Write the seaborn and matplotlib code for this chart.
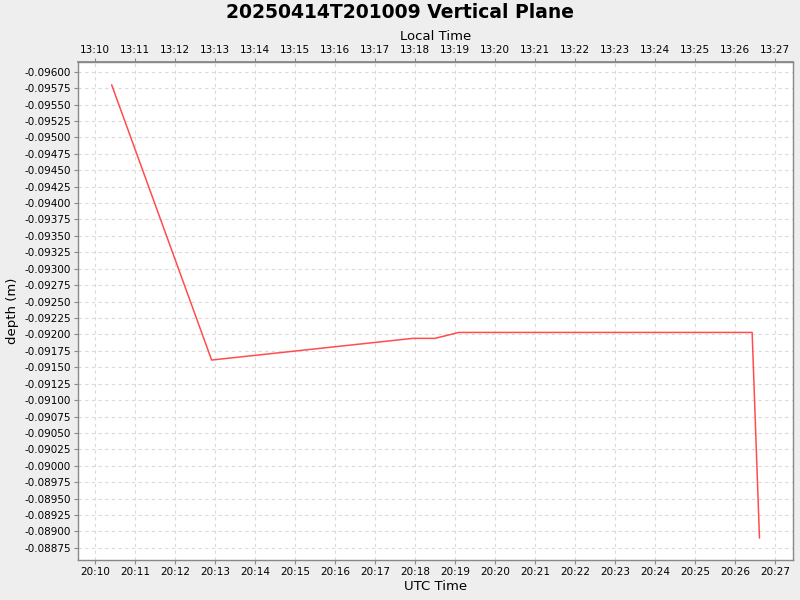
import matplotlib
matplotlib.use("Agg")
import matplotlib.pyplot as plt
import matplotlib.dates as mdates
import numpy as np
import pandas as pd
import seaborn as sns

# ---- data ----
utc_times = ["2025-04-14 20:10:25", "2025-04-14 20:12:55", "2025-04-14 20:17:57",
             "2025-04-14 20:18:30", "2025-04-14 20:19:06", "2025-04-14 20:26:26",
             "2025-04-14 20:26:37"]
depth_m = [-0.09580, -0.09161, -0.09194, -0.09194, -0.09203, -0.09203, -0.08890]
title = "20250414T201009 Vertical Plane"
local_offset_hours = -7

df = pd.DataFrame({"time": pd.to_datetime(utc_times), "depth": depth_m})

sns.set_theme(style="white")
plt.rcParams["font.family"] = ["DejaVu Sans"]
plt.rcParams["text.color"] = "black"
plt.rcParams["axes.labelcolor"] = "black"
plt.rcParams["xtick.color"] = "black"
plt.rcParams["ytick.color"] = "black"

fig = plt.figure(figsize=(8, 6), dpi=100, facecolor="#EEEEEE")
ax = fig.add_axes([0.0975, 0.0667, 0.8935, 0.8295])
ax.set_facecolor("white")

sns.lineplot(data=df, x="time", y="depth", ax=ax, color="#FF4D4D", linewidth=1.1,
             sort=False, estimator=None)

x0 = pd.Timestamp("2025-04-14 20:09:34.5")
x1 = pd.Timestamp("2025-04-14 20:27:27")
ax.set_xlim(x0, x1)
ax.set_ylim(-0.088566, -0.096143)

ax.yaxis.set_major_locator(matplotlib.ticker.MultipleLocator(0.00025))
ax.yaxis.set_major_formatter(matplotlib.ticker.FormatStrFormatter("%.5f"))
ax.xaxis.set_major_locator(mdates.MinuteLocator(interval=1))
ax.xaxis.set_major_formatter(mdates.DateFormatter("%H:%M"))

ax.grid(True, color="#DADADA", linestyle=(0, (3, 3)), linewidth=0.8)
for s in ax.spines.values():
    s.set_color("#888888")
    s.set_linewidth(1.0)

ax.tick_params(axis="both", which="major", labelsize=7.5, length=3, width=0.8,
               color="#888888", labelcolor="black", direction="out",
               left=True, bottom=True, pad=2)
ax.set_xlabel("UTC Time", fontsize=9.5, labelpad=2, color="black")
ax.set_ylabel("depth (m)", fontsize=9.5, labelpad=4, color="black")

off = local_offset_hours / 24.0
sec = ax.secondary_xaxis("top", functions=(lambda x: x + off, lambda x: x - off))
sec.xaxis.set_major_locator(mdates.MinuteLocator(interval=1))
sec.xaxis.set_major_formatter(mdates.DateFormatter("%H:%M"))
sec.tick_params(axis="x", labelsize=7.5, length=3, width=0.8, color="#888888",
                labelcolor="black", pad=2)
sec.spines["top"].set_color("#888888")
sec.set_xlabel("Local Time", fontsize=9.5, labelpad=4, color="black")

fig.suptitle(title, fontsize=13.5, fontweight="bold", y=0.995, color="black")

fig.savefig("out.png", dpi=100, facecolor=fig.get_facecolor())
